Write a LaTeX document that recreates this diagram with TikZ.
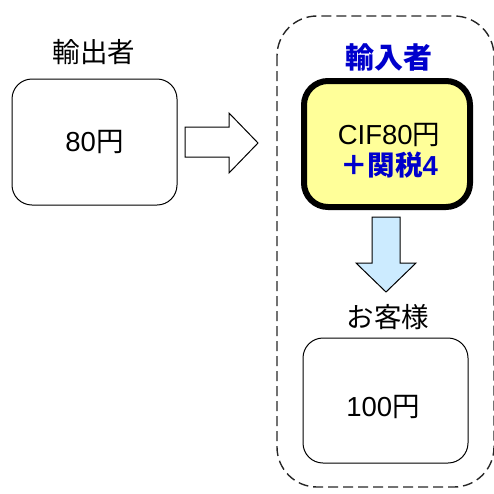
\documentclass[tikz,border=0pt]{standalone}
\usepackage{fontspec}
\setmainfont{Liberation Sans}
\newfontfamily\jp{Noto Sans CJK JP}
\definecolor{boxyellow}{HTML}{FFFF99}
\definecolor{arrowblue}{HTML}{CCEBFF}
\definecolor{labelblue}{HTML}{0000CC}
\begin{document}
\begin{tikzpicture}[x=1pt,y=-1pt,
  every node/.style={inner sep=0pt, outer sep=0pt},
  txt/.style={font=\fontsize{27.5}{32}\selectfont, align=center},
  card/.style={draw=black, line width=1pt, rounded corners=20pt, fill=white,
    minimum width=165pt, minimum height=126pt},
  keycard/.style={card, fill=boxyellow, line width=6pt, rounded corners=24pt,
    minimum width=166pt},
  zone/.style={draw=black!85, line width=1.4pt, dash pattern=on 10pt off 5pt,
    rounded corners=40pt},
  blockarrow/.style={draw=black, line width=1pt, line join=miter}
]
\useasboundingbox (0,0) rectangle (494,493);

% importer zone
\draw[zone] (277,16) rectangle (494,487);

% exporter
\node[txt] (explabel) at (94,52) {\jp 輸出者};
\node[card] (exp) at (94.5,142) {};
\node[txt] (exptext) at (exp.center) {80{\jp 円}};

% importer
\node[txt, font=\fontsize{29}{34}\selectfont\bfseries, text=labelblue]
  (implabel) at (389,57) {\jp 輸入者};
\node[keycard] (imp) at (387,144) {};
\node[txt] (imptext) at (389,151)
  {CIF80{\jp 円}\\[-1pt]{\bfseries\color{labelblue}{\jp ＋関税}4}};

% customer
\node[txt] (custlabel) at (388,317) {\jp お客様};
\node[card, minimum height=125pt] (cust) at (385.5,400.5) {};
\node[txt] (custtext) at (383,407) {100{\jp 円}};

% hollow arrow from exporter to importer
\draw[blockarrow, fill=white]
  (185,127) -- (229,127) -- (229,113) -- (258,143) -- (229,173)
  -- (229,157) -- (185,157) -- cycle;

% blue arrow from importer down to customer
\draw[blockarrow, fill=arrowblue]
  (372,217) -- (400,217) -- (400,263) -- (416,263) -- (386,292)
  -- (356,263) -- (372,263) -- cycle;
\end{tikzpicture}
\end{document}
